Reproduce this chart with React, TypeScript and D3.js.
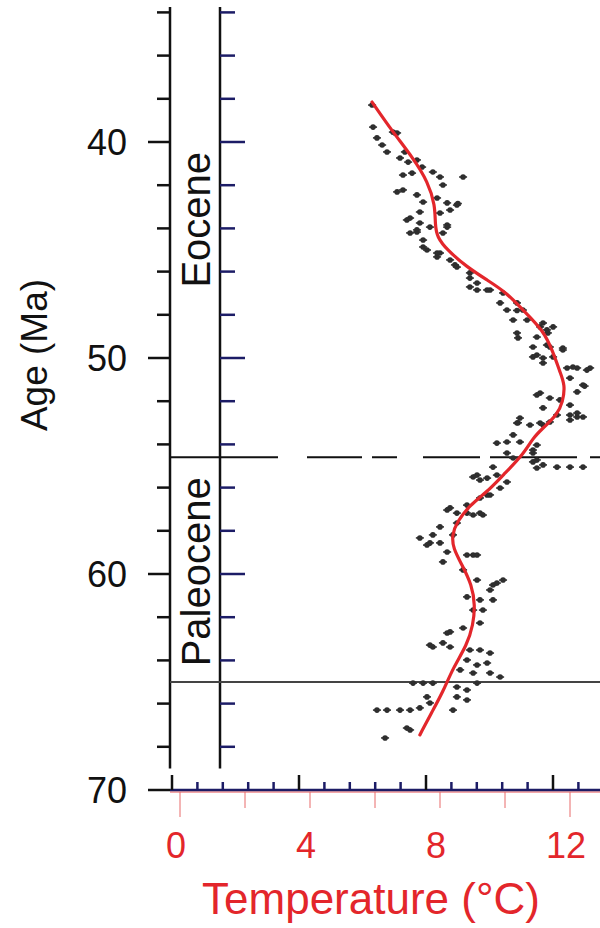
import React from 'react';
import * as d3 from 'd3';

// age axis (Ma) and temperature axis (°C)
const ageDomain = [33.75, 70];
const ageTicks = [40, 50, 60, 70];
const ageMinorTicks = d3.range(34, 70, 2);
const tempTicks = [0, 4, 8, 12];
const tempMinorTicks = [0, 2, 4, 6, 8, 10, 12];
const auxTicks = d3.range(0, 17);

const epochNames = ['Eocene', 'Paleocene'];
const epochLabelAge = [43.6, 59.9];
const peBoundary = 54.6;
const kpgBoundary = 65.0;

// smoothed temperature curve [age, temp]
const smoothCurve = [
  [38.15, 5.91], [39.54, 6.55], [40.74, 7.17], [41.85, 7.63], [42.92, 7.85],
  [43.84, 7.85], [44.4, 7.91], [45.0, 8.22], [45.79, 8.83], [46.39, 9.45],
  [46.99, 10.06], [47.78, 10.55], [48.7, 11.17], [49.72, 11.48], [50.65, 11.69],
  [51.25, 11.85], [52.04, 11.78], [52.64, 11.6], [53.24, 11.17], [53.7, 10.86],
  [54.49, 10.55], [55.42, 9.94], [56.2, 9.45], [56.81, 8.92], [57.59, 8.52],
  [58.19, 8.37], [58.8, 8.4], [59.58, 8.68], [60.51, 8.98], [61.44, 9.08],
  [62.36, 9.02], [63.29, 8.83], [64.35, 8.4], [65.46, 8.09], [66.39, 7.75],
  [67.45, 7.38],
];

// individual measurements [age, temp]
const measurements = [
  [38.29, 5.91], [39.31, 5.94], [39.81, 6.06], [40.14, 6.22], [40.46, 6.37],
  [39.54, 6.55], [39.58, 6.68], [40.74, 6.77], [40.46, 6.92], [40.93, 7.02],
  [40.83, 7.29], [41.53, 6.86], [41.44, 7.14], [41.16, 7.45], [41.39, 7.78],
  [41.62, 8.0], [41.99, 8.09], [41.62, 8.71], [42.31, 6.68], [42.22, 6.86],
  [42.45, 7.29], [42.78, 7.48], [42.59, 7.91], [42.82, 8.22], [42.92, 8.52],
  [43.52, 7.08], [43.24, 7.38], [43.29, 8.0], [43.15, 8.31], [39.6, 6.62],
  [43.61, 6.98], [44.17, 7.29], [44.86, 7.48], [45.14, 7.91], [45.69, 8.46],
  [42.85, 8.55], [43.94, 8.22], [44.21, 8.09], [44.21, 7.08], [44.07, 7.29],
  [44.54, 7.48], [43.75, 7.38], [43.94, 7.69], [43.84, 8.22], [45.0, 7.6],
  [45.14, 8.0], [45.32, 7.91], [45.46, 8.31], [45.79, 8.52], [46.3, 8.92],
  [46.71, 8.92], [46.85, 9.14], [46.85, 9.54], [46.99, 9.94], [47.45, 9.85],
  [47.78, 10.06], [47.45, 10.37], [47.78, 10.55], [48.24, 10.68], [48.38, 11.17],
  [48.7, 11.29], [48.56, 11.48], [48.84, 10.37], [49.03, 10.98], [46.06, 8.92],
  [46.53, 9.14], [46.85, 9.45], [47.8, 10.37], [48.24, 10.25], [49.07, 10.4],
  [49.49, 10.86], [48.56, 11.08], [48.84, 11.32], [49.49, 11.38], [49.95, 11.48],
  [49.63, 11.78], [50.42, 12.09], [50.56, 12.52], [49.95, 10.86], [50.23, 11.17],
  [49.86, 10.98], [50.0, 11.17], [49.4, 11.29], [49.54, 11.78], [50.46, 11.91],
  [50.46, 12.22], [50.46, 12.62], [50.93, 12.0], [51.25, 12.4], [51.57, 12.22],
  [51.71, 10.98], [51.85, 11.38], [52.18, 12.0], [52.31, 11.17], [52.64, 11.6],
  [52.64, 12.0], [52.73, 12.22], [52.73, 12.4], [52.78, 10.46], [53.1, 10.77],
  [53.0, 10.4], [53.1, 11.17], [52.96, 11.38], [53.94, 9.75], [53.89, 10.06],
  [53.56, 10.25], [53.89, 10.46], [54.03, 10.98], [54.4, 10.06], [54.4, 10.86],
  [51.62, 11.08], [51.3, 12.45], [51.94, 11.69], [52.55, 12.22], [52.87, 12.0],
  [53.01, 10.37], [53.01, 11.08], [54.26, 10.86], [54.72, 10.98], [55.05, 9.63],
  [54.63, 10.25], [54.81, 10.86], [54.95, 11.17], [55.05, 11.6], [55.05, 12.0],
  [55.05, 12.4], [55.09, 10.98], [55.42, 9.14], [55.56, 9.45], [55.42, 9.75],
  [55.74, 10.06], [56.02, 9.85], [56.34, 9.54], [56.48, 9.23], [56.81, 8.83],
  [56.94, 8.31], [57.18, 8.52], [57.27, 9.02], [57.27, 9.32], [57.82, 8.0],
  [58.19, 7.78], [58.33, 7.38], [58.66, 7.6], [58.56, 8.0], [58.98, 8.22],
  [59.12, 8.83], [59.12, 9.14], [59.44, 8.09], [58.19, 8.4], [57.64, 8.52],
  [55.51, 9.02], [55.65, 9.23], [56.34, 9.45], [57.04, 8.22], [57.18, 8.83],
  [57.18, 9.23], [58.56, 7.69], [59.12, 9.02], [59.81, 8.71], [60.28, 9.14],
  [60.42, 9.75], [60.28, 9.94], [60.74, 9.54], [61.06, 8.83], [61.2, 9.23],
  [61.2, 9.63], [61.67, 9.02], [61.67, 9.32], [62.27, 9.23], [62.5, 8.71],
  [62.73, 8.22], [63.19, 8.09], [63.38, 7.78], [63.38, 8.31], [63.52, 8.92],
  [63.52, 9.23], [63.66, 9.54], [63.98, 8.83], [64.21, 9.14], [64.12, 9.45],
  [64.44, 8.62], [64.58, 9.02], [64.58, 9.54], [64.77, 9.85], [65.05, 7.17],
  [65.05, 7.48], [65.05, 7.78], [65.23, 8.52], [65.37, 8.83], [65.05, 9.14],
  [65.69, 8.52], [65.83, 8.83], [65.69, 7.6], [65.97, 7.69], [66.3, 8.4],
  [66.3, 6.06], [66.3, 6.37], [66.3, 6.77], [66.3, 7.08], [66.2, 7.38],
  [67.22, 7.08], [67.13, 6.98], [67.59, 6.31], [60.51, 9.63], [62.68, 8.31],
  [63.29, 7.69],
];

const font = 'Liberation Sans, Arial, Helvetica, sans-serif';
const red = '#e3262b';
const navy = '#1c1c66';

const App = () => {
  const width = 600;
  const height = 928;

  const y = d3.scaleLinear().domain([40, 70]).range([142, 790]);
  const x = d3.scaleLinear().domain([0, 12]).range([180, 570]);
  const aux = d3.scaleLinear().domain([0, 1]).range([172, 197.4]);

  const outerX = 170;
  const innerX = 220;
  const baseY = y(70);
  const lineBottom = y(69);

  const curve = d3.line<number[]>()
    .x(d => x(d[1]))
    .y(d => y(d[0]))
    .curve(d3.curveBasis);

  return (
    <div style={{ position: 'absolute', left: 0, top: 0 }}>
      <svg width={width} height={height} style={{ display: 'block', background: '#fff' }}>
        {/* epoch column */}
        <line x1={outerX} x2={outerX} y1={y(ageDomain[0])} y2={lineBottom} stroke="#111" strokeWidth={2.5} />
        <line x1={innerX} x2={innerX} y1={y(ageDomain[0])} y2={lineBottom} stroke="#111" strokeWidth={2.5} />
        {ageMinorTicks.map(t => {
          const major = t % 10 === 0;
          return (
            <g key={'t' + t}>
              <line x1={major ? 148 : 157} x2={outerX} y1={y(t)} y2={y(t)} stroke="#111" strokeWidth={2.5} />
              <line x1={innerX} x2={major ? 245 : 235} y1={y(t)} y2={y(t)} stroke={navy} strokeWidth={2.5} />
            </g>
          );
        })}
        {epochNames.map((name, i) => (
          <text
            key={name}
            transform={`translate(${innerX - 10},${y(epochLabelAge[i])}) rotate(-90)`}
            textAnchor="middle"
            fontFamily={font}
            fontSize={40}
            fill="#111"
          >
            {name}
          </text>
        ))}

        {/* boundaries */}
        <line x1={outerX} x2={278} y1={y(peBoundary)} y2={y(peBoundary)} stroke="#111" strokeWidth={2} />
        <line
          x1={307}
          x2={width}
          y1={y(peBoundary)}
          y2={y(peBoundary)}
          stroke="#111"
          strokeWidth={2}
          strokeDasharray="55 10 25 26 57 10 87 13 40"
        />
        <line x1={outerX} x2={width} y1={y(kpgBoundary)} y2={y(kpgBoundary)} stroke="#444" strokeWidth={2} />

        {/* age labels */}
        {ageTicks.map(t => (
          <text key={'a' + t} x={127} y={y(t)} dy="0.36em" textAnchor="end" fontFamily={font} fontSize={36} fill="#111">
            {t}
          </text>
        ))}
        <text
          transform={`translate(47,${y(50) - 3}) rotate(-90)`}
          textAnchor="middle"
          fontFamily={font}
          fontSize={37}
          fill="#111"
        >
          Age (Ma)
        </text>

        {/* bottom axes */}
        <line x1={148} x2={outerX} y1={baseY} y2={baseY} stroke="#111" strokeWidth={2.5} />
        <line x1={outerX} x2={width} y1={baseY + 2} y2={baseY + 2} stroke={red} strokeWidth={1} opacity={0.8} />
        <line x1={outerX} x2={width} y1={baseY} y2={baseY} stroke={navy} strokeWidth={2.5} />
        {auxTicks.map(t => (
          <line
            key={'n' + t}
            x1={aux(t)}
            x2={aux(t)}
            y1={baseY}
            y2={baseY - (t % 5 === 0 ? 15 : 8)}
            stroke={t % 5 === 0 ? '#111' : navy}
            strokeWidth={2.5}
          />
        ))}
        {tempMinorTicks.map(t => (
          <line
            key={'r' + t}
            x1={x(t)}
            x2={x(t)}
            y1={baseY + 2}
            y2={baseY + (t === 0 || t === 12 ? 27 : 18)}
            stroke="#e86a6a"
            strokeWidth={1}
          />
        ))}
        {tempTicks.map(t => (
          <text key={'l' + t} x={x(t)} dx={-4} y={858} textAnchor="middle" fontFamily={font} fontSize={36} fill={red}>
            {t}
          </text>
        ))}
        <text x={x(6)} dx={-4} y={914} textAnchor="middle" fontFamily={font} fontSize={44} fill={red}>
          Temperature (°C)
        </text>

        {/* data */}
        {measurements.map((d, i) => (
          <g key={'m' + i}>
            <line x1={x(d[1]) - 4} x2={x(d[1]) + 4} y1={y(d[0])} y2={y(d[0])} stroke="#333" strokeWidth={1.6} />
            <circle cx={x(d[1])} cy={y(d[0])} r={2.8} fill="#2e2e2e" />
          </g>
        ))}
        <path d={curve(smoothCurve) || ''} fill="none" stroke={red} strokeWidth={3.2} strokeLinecap="round" />
      </svg>
    </div>
  );
};

export default App;
